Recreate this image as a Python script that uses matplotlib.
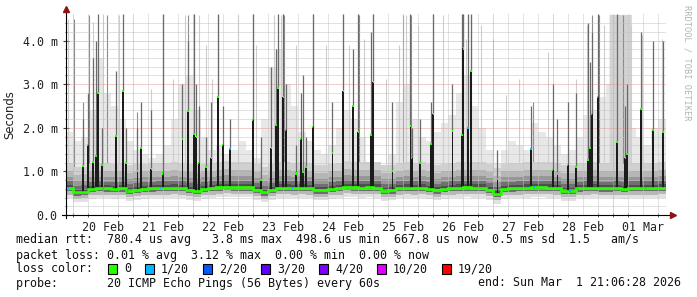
import numpy as np
import matplotlib.pyplot as plt
from matplotlib.patches import Rectangle

# time axis: days since 20 Feb 2026 00:00, graph ends Sun Mar 1 21:06:28
t_start = -0.121
t_end = 9.879
day_labels = ["20 Feb", "21 Feb", "22 Feb", "23 Feb", "24 Feb",
              "25 Feb", "26 Feb", "27 Feb", "28 Feb", "01 Mar"]

# median rtt (ms), one value per 3 hours starting 19 Feb 21:00
base_med = [0.62, 0.52, 0.53, 0.60, 0.62, 0.61, 0.60, 0.61, 0.56, 0.58,
            0.60, 0.61, 0.62, 0.62, 0.63, 0.62, 0.58, 0.56, 0.60, 0.62,
            0.64, 0.65, 0.64, 0.64, 0.64, 0.58, 0.52, 0.58, 0.63, 0.63,
            0.62, 0.63, 0.62, 0.57, 0.57, 0.60, 0.62, 0.65, 0.64, 0.63,
            0.64, 0.63, 0.56, 0.57, 0.62, 0.63, 0.62, 0.63, 0.60, 0.57,
            0.60, 0.62, 0.63, 0.64, 0.63, 0.63, 0.58, 0.49, 0.60, 0.61,
            0.62, 0.63, 0.64, 0.64, 0.63, 0.62, 0.56, 0.56, 0.61, 0.62,
            0.63, 0.61, 0.61, 0.62, 0.60, 0.62, 0.62, 0.62, 0.62, 0.63]

# upper edge of the light smoke (ms), same 3 hour slots
haze_top = [1.9, 1.7, 1.8, 2.4, 3.6, 2.8, 2.5, 2.2, 1.7, 1.5,
            1.4, 1.3, 1.4, 1.6, 2.2, 3.0, 3.2, 2.4, 1.8, 1.5,
            1.6, 1.4, 1.5, 1.7, 1.5, 1.3, 2.2, 3.4, 3.8, 3.0,
            2.5, 1.9, 1.7, 1.5, 1.4, 1.6, 2.0, 2.4, 2.2, 1.8,
            1.2, 1.0, 1.1, 1.4, 2.6, 3.0, 2.2, 1.8, 1.7, 1.9,
            2.1, 2.3, 2.8, 3.2, 2.5, 2.0, 1.5, 1.2, 1.5, 1.7,
            1.6, 1.5, 2.1, 1.9, 1.8, 1.6, 1.4, 1.5, 1.8, 2.3,
            2.4, 2.7, 3.0, 2.6, 2.4, 2.0, 1.8, 1.6, 2.0, 2.2]

# grey block of heavy smoke in the night to 1 Mar
block_days = [8.93, 9.30]
block_top = 4.6

# episodes where the median jumped (day, median ms, max ms)
spike_day = [0.16, 0.24, 0.33, 0.38, 0.41, 0.48, 0.71, 0.83, 0.88, 1.07,
             1.13, 1.30, 1.49, 1.82, 1.91, 2.01, 2.05, 2.09, 2.21, 2.30,
             2.41, 2.49, 2.61, 2.99, 3.13, 3.30, 3.38, 3.41, 3.50, 3.54,
             3.71, 3.79, 3.83, 3.88, 3.99, 4.32, 4.50, 4.66, 4.75, 4.96,
             5.00, 5.32, 5.62, 5.64, 5.78, 5.96, 6.00, 6.32, 6.48, 6.50,
             6.58, 6.63, 7.07, 7.63, 7.99, 8.07, 8.24, 8.38, 8.58, 8.61,
             8.64, 8.74, 9.06, 9.20, 9.23, 9.46, 9.66, 9.83]
spike_med = [1.12, 1.61, 1.21, 1.35, 2.79, 1.14, 1.81, 2.84, 1.20, 1.00,
             1.53, 1.05, 0.95, 1.74, 2.38, 1.86, 1.78, 1.20, 1.10, 1.31,
             2.70, 1.61, 1.52, 2.17, 0.80, 1.53, 2.06, 2.91, 2.70, 1.94,
             0.95, 1.75, 0.98, 1.10, 2.02, 1.43, 2.84, 2.50, 1.90, 1.84,
             3.05, 1.00, 2.05, 1.30, 1.20, 1.62, 2.31, 1.92, 1.83, 3.82,
             2.00, 3.30, 0.82, 1.52, 1.03, 0.95, 1.15, 1.10, 1.26, 1.53,
             2.32, 2.70, 1.67, 1.30, 1.40, 2.43, 1.95, 1.90]
spike_max = [2.2, 2.8, 3.6, 4.0, 4.6, 2.0, 3.3, 4.6, 2.0, 2.0,
             2.6, 2.4, 4.6, 3.0, 4.0, 4.6, 3.0, 2.5, 1.8, 2.6,
             4.6, 2.5, 2.2, 4.6, 1.8, 3.4, 3.8, 4.6, 4.6, 3.0,
             1.6, 2.8, 3.2, 1.8, 4.6, 2.6, 4.6, 3.8, 4.6, 4.2,
             4.6, 2.6, 4.6, 2.0, 2.2, 2.6, 4.6, 3.0, 4.6, 4.6,
             4.6, 4.6, 1.5, 2.5, 3.0, 2.2, 2.6, 2.8, 4.4, 3.5,
             4.2, 4.6, 4.6, 2.5, 3.0, 4.2, 4.0, 4.0]
spike_loss_day = [2.61, 6.58, 7.63]          # spikes with 1/20 loss
loss_day = [-0.08, 0.51, 0.91, 1.45, 3.66, 7.68, 8.28, 8.41, 9.54]  # 1/20 loss on baseline

# single slow pings (max rtt lines)
tall_dark_day = [0.02, 0.17, 0.27, 0.56, 1.07, 1.49, 1.92, 2.41, 3.00, 3.52,
                 3.99, 4.50, 4.77, 4.99, 5.50, 5.63, 5.99, 6.49, 6.63, 7.66,
                 8.65, 8.76, 9.16]
tall_dark_top = [4.50, 2.59, 4.58, 4.58, 2.36, 4.58, 4.58, 4.58, 4.58, 4.58,
                 4.58, 4.58, 4.58, 4.58, 4.58, 4.58, 4.58, 4.58, 4.58, 2.59,
                 4.58, 4.58, 4.58]
tall_light_day = [-0.09, 0.33, 0.50, 0.77, 1.30, 1.66, 1.86, 2.10, 2.21, 2.31,
                  2.74, 3.05, 3.35, 3.47, 3.71, 4.21, 4.60, 4.85, 5.21, 5.43,
                  5.55, 5.74, 6.16, 6.55, 6.80, 6.99, 7.21, 7.43, 7.91, 8.38,
                  8.57, 8.85, 9.30, 9.48, 9.66, 9.82]
tall_light_top = [4.50, 4.43, 4.58, 4.58, 2.90, 3.13, 4.58, 4.58, 3.89, 3.13,
                  4.58, 3.89, 4.58, 4.58, 3.89, 3.89, 3.89, 4.04, 3.13, 3.89,
                  4.58, 4.35, 4.58, 4.04, 4.35, 4.04, 2.75, 3.13, 3.74, 3.13,
                  4.35, 4.35, 4.35, 4.12, 3.89, 4.04]

loss_labels = ["0", "1/20", "2/20", "3/20", "4/20", "10/20", "19/20"]
loss_colors = ["#26ff00", "#00b8ff", "#0059ff", "#5e00ff", "#7e00ff", "#dd00ff", "#ff0000"]

plt.rcParams['font.family'] = 'DejaVu Sans Mono'
W, H = 697, 297
fig = plt.figure(figsize=(W / 100, H / 100), dpi=100)
ax = fig.add_axes([66 / W, 82 / H, 600 / W, 200.6 / H])
ax.set_xlim(t_start, t_end)
ax.set_ylim(0, 4.6)
for s in ax.spines.values():
    s.set_visible(False)

edges = -0.125 + 0.125 * np.arange(len(base_med) + 1)
base = np.array(base_med)
base_e = np.append(base, base[-1])
haze_e = np.append(haze_top, haze_top[-1])


def base_at(d):
    i = np.clip(np.searchsorted(edges, d, side='right') - 1, 0, len(base) - 1)
    return base[i]


# light smoke, only above the median band
ax.fill_between(edges, base_e, haze_e, step='post', color='#e8e8e8', lw=0, zorder=1)
bb = base_at(block_days)
ax.fill_between(block_days, bb, [block_top, block_top], color='#d2d2d2', lw=0, zorder=1.1)
ax.vlines(tall_light_day, base_at(tall_light_day), tall_light_top,
          colors='#cdcdcd', lw=0.8, zorder=1.5)
ax.vlines(tall_dark_day, base_at(tall_dark_day), tall_dark_top,
          colors='#8c8c8c', lw=0.8, zorder=1.6)

# smoke around the median
bands = [(-0.23, -0.15, '#e2e2e2'), (-0.15, -0.08, '#b8b8b8'), (-0.08, 0.0, '#6e6e6e'),
         (0.0, 0.07, '#4e4e4e'), (0.07, 0.15, '#707070'), (0.15, 0.26, '#979797'),
         (0.26, 0.40, '#b6b6b6'), (0.40, 0.58, '#d0d0d0')]
for lo, hi, c in bands:
    ax.fill_between(edges, base_e + lo, base_e + hi, step='post', color=c, lw=0, zorder=2)

# grid
dot = (0, (1, 1))
for y in np.arange(0.2, 4.6, 0.2):
    major = abs(y - round(y)) < 1e-6
    ax.axhline(y, color='#e39a9a' if major else '#c4c4c4', lw=0.72, ls=dot, zorder=2.5)
for d in np.arange(0, 10, 0.25):
    major = abs(d - round(d)) < 1e-6
    ax.axvline(d, color='#e39a9a' if major else '#c4c4c4', lw=0.72, ls=dot, zorder=2.5)

# spikes
sb = base_at(spike_day)
ax.vlines(spike_day, spike_med, spike_max, colors='#6a6a6a', lw=0.9, zorder=3)
ax.bar(spike_day, np.array(spike_med) - sb, bottom=sb, width=0.032,
       color='#1c1c1c', lw=0, zorder=3.1)

# median line
ax.stairs(base, edges, baseline=None, color='#26ff00', lw=1.9, zorder=4)
tip_col = ['#00b8ff' if d in spike_loss_day else '#26ff00' for d in spike_day]
ax.bar(spike_day, 0.05, bottom=np.array(spike_med) - 0.025, width=0.022,
       color=tip_col, lw=0, zorder=4.2)
ax.bar(loss_day, 0.06, bottom=base_at(loss_day) - 0.03, width=0.02,
       color='#00b8ff', lw=0, zorder=4.5)

# axes, ticks, arrows
ax.set_yticks([0, 1, 2, 3, 4])
ax.set_yticklabels(["0.0", "1.0 m", "2.0 m", "3.0 m", "4.0 m"])
ax.set_yticks(np.arange(0, 4.6, 0.2), minor=True)
ax.set_xticks(np.arange(0.5, 10, 1.0))
ax.set_xticklabels(day_labels)
ax.set_xticks(np.arange(0, 10, 0.25), minor=True)
ax.tick_params(axis='both', which='both', direction='inout', color='#404040',
               labelsize=8.4, labelcolor='#222222')
ax.tick_params(axis='y', which='major', length=4, pad=4)
ax.tick_params(axis='y', which='minor', length=2)
ax.tick_params(axis='x', which='major', length=0, pad=4)
ax.tick_params(axis='x', which='minor', length=3)

ax.plot([0, 0], [-0.015, 1.02], transform=ax.transAxes, color='black', lw=0.8,
        clip_on=False, zorder=5)
ax.plot([-0.006, 1.008], [0, 0], transform=ax.transAxes, color='black', lw=0.8,
        clip_on=False, zorder=5)
ax.plot([0], [1.028], transform=ax.transAxes, marker='^', ms=4.5, color='#8e1414',
        clip_on=False, zorder=6)
ax.plot([1.011], [0], transform=ax.transAxes, marker='>', ms=4.5, color='#8e1414',
        clip_on=False, zorder=6)

fig.text(10 / W, 1 - 115 / H, "Seconds", rotation=90, ha='center', va='center',
         fontsize=8.4, family='DejaVu Sans', color='#222222')
fig.text(687 / W, 1 - 5 / H, "RRDTOOL / TOBI OETIKER", rotation=270, ha='center',
         va='top', fontsize=6.2, color='#b4b4b4')

# legend
fs = 8.4
def row(x, y, s, **kw):
    fig.text(x / W, 1 - y / H, s, fontsize=fs, va='center', color='#111111', **kw)

row(16, 240, "median rtt:  780.4 us avg   3.8 ms max  498.6 us min  667.8 us now  0.5 ms sd  1.5   am/s")
row(16, 255, "packet loss: 0.01 % avg  3.12 % max  0.00 % min  0.00 % now")
row(16, 269, "loss color:")
x = 108
for lab, col in zip(loss_labels, loss_colors):
    fig.patches.append(Rectangle((x / W, 1 - 274 / H), 9 / W, 10 / H, transform=fig.transFigure,
                                 facecolor=col, edgecolor='black', lw=0.8))
    row(x + 16, 269, lab)
    x += 16 + (len(lab) + 2) * 7.0
row(16, 283, "probe:       20 ICMP Echo Pings (56 Bytes) every 60s")
row(681, 283, "end: Sun Mar  1 21:06:28 2026", ha='right')

fig.savefig("out.png", dpi=100, facecolor='white')
